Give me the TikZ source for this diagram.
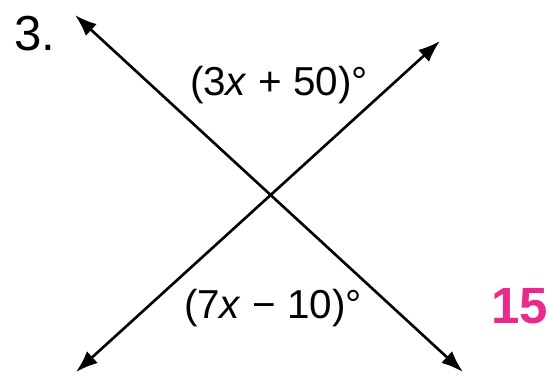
\documentclass[tikz,border=0pt]{standalone}
\usepackage{fontspec}
\setmainfont{Liberation Sans}
\usepackage{xcolor}
\usetikzlibrary{arrows.meta}
\definecolor{answerpink}{RGB}{232,42,138}

\begin{document}
\begin{tikzpicture}[x=0.02cm,y=-0.02cm,>={Latex[length=0.44cm,width=0.32cm]},line width=1.5pt,
  angletext/.style={anchor=base,inner sep=0pt,font=\fontsize{23}{27}\selectfont}]
  \useasboundingbox (0,0) rectangle (552,373);
  \coordinate (ul) at (75,15);
  \coordinate (lr) at (463,372);
  \coordinate (ll) at (76,372);
  \coordinate (ur) at (440,41);
  \draw[<->] (ul) -- (lr);
  \draw[<->] (ll) -- (ur);
  \node[angletext] (topangle) at (279,95) {(3\textit{x} + 50)°};
  \node[angletext] (botangle) at (273,318) {(7\textit{x} − 10)°};
  \node[anchor=base west,inner sep=0pt,font=\fontsize{28}{32}\selectfont] (num) at (13,50) {3.};
  \node[anchor=base east,inner sep=0pt,text=answerpink,font=\fontsize{29}{33}\selectfont\bfseries] (page) at (549,323) {15};
\end{tikzpicture}
\end{document}
